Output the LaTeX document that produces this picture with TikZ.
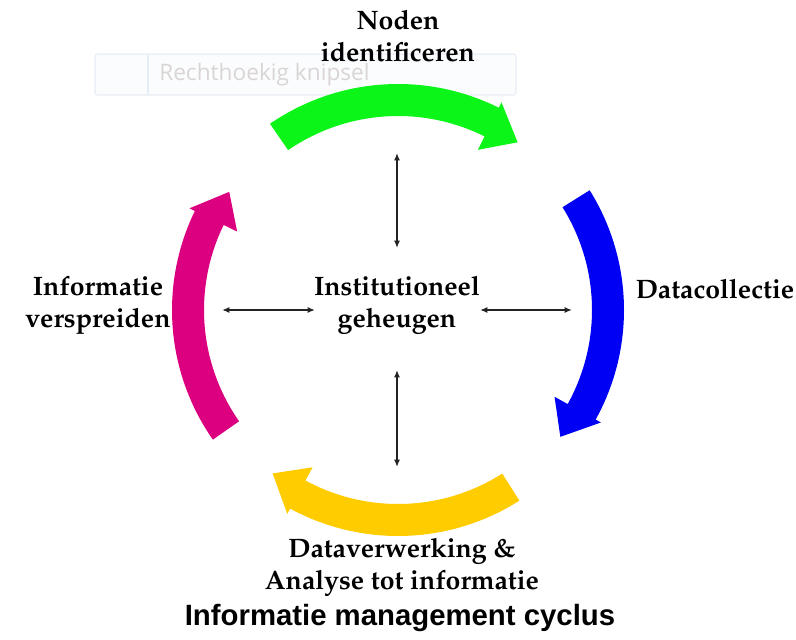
\documentclass[tikz,border=0pt]{standalone}
\usepackage[T1]{fontenc}
\usepackage{fontspec}
\usetikzlibrary{arrows.meta}
\newfontfamily\titlefont{Liberation Sans}
\newfontfamily\snipfont{Open Sans}
\newcommand\palb{\fontencoding{T1}\fontfamily{ppl}\fontseries{b}\fontshape{n}\fontsize{20pt}{24pt}\selectfont}
\definecolor{cgreen}{RGB}{12,245,24}
\definecolor{cblue}{RGB}{0,0,245}
\definecolor{cyellow}{RGB}{255,204,0}
\definecolor{cmagenta}{RGB}{220,0,128}
\definecolor{snipborder}{RGB}{232,238,245}
\definecolor{snipfill}{RGB}{251,252,254}
\definecolor{sniptext}{RGB}{218,213,213}
\definecolor{linkgray}{RGB}{35,35,35}
\newcommand\cycarrow[2]{%
\fill[#1] plot[domain=#2+35:#2-26,samples=60] ({398+226*cos(\x)},{310-226*sin(\x)})
 -- ({398+232*cos(#2-26)},{310-232*sin(#2-26)})
 -- ({398+206*cos(#2-35)},{310-206*sin(#2-35)})
 -- ({398+179*cos(#2-26)},{310-179*sin(#2-26)})
 -- plot[domain=#2-26:#2+35,samples=60] ({398+194*cos(\x)},{310-194*sin(\x)}) -- cycle;}
\tikzset{
  lbl/.style={font=\palb, align=center, inner sep=0pt, text=black},
  link/.style={draw=linkgray, line width=1.2pt, {Latex[length=5.5pt,width=4.5pt]}-{Latex[length=5.5pt,width=4.5pt]}},
}
\begin{document}
\begin{tikzpicture}[x=0.75pt,y=-0.75pt]
\useasboundingbox[fill=white] (0,0) rectangle (796,639);
% snipping tool artefact
\draw[snipborder, fill=snipfill, line width=0.8pt, rounded corners=2pt] (95,54) rectangle (516,95);
\draw[snipborder, line width=0.8pt] (148,54) -- (148,95);
\node[font=\snipfont\fontsize{17pt}{20pt}\selectfont, text=sniptext, anchor=west, inner sep=0pt] (snip) at (159,75) {Rechthoekig knipsel};
% cycle arrows
\cycarrow{cgreen}{89.5}
\cycarrow{cblue}{-3}
\cycarrow{cyellow}{-92.5}
\cycarrow{cmagenta}{180}
% labels
\node[lbl] (noden) at (398,36) {Noden\\identificeren};
\node[lbl] (data) at (715,289) {Datacollectie};
\node[lbl] (verspr) at (98,305) {Informatie\\verspreiden};
\node[lbl] (inst) at (397,305) {Institutioneel\\geheugen};
\node[lbl] (verw) at (402,567) {Dataverwerking \&\\Analyse tot informatie};
\node[font=\titlefont\bfseries\fontsize{22pt}{26pt}\selectfont, inner sep=0pt] (title) at (400,618) {Informatie management cyclus};
% links
\coordinate (tA) at (397,153);
\coordinate (tB) at (397,248);
\coordinate (bA) at (397,370);
\coordinate (bB) at (397,467);
\coordinate (lA) at (222,310);
\coordinate (lB) at (315,310);
\coordinate (rA) at (480,310);
\coordinate (rB) at (572,310);
\draw[link] (tA) -- (tB);
\draw[link] (bA) -- (bB);
\draw[link] (lA) -- (lB);
\draw[link] (rA) -- (rB);
\end{tikzpicture}
\end{document}
